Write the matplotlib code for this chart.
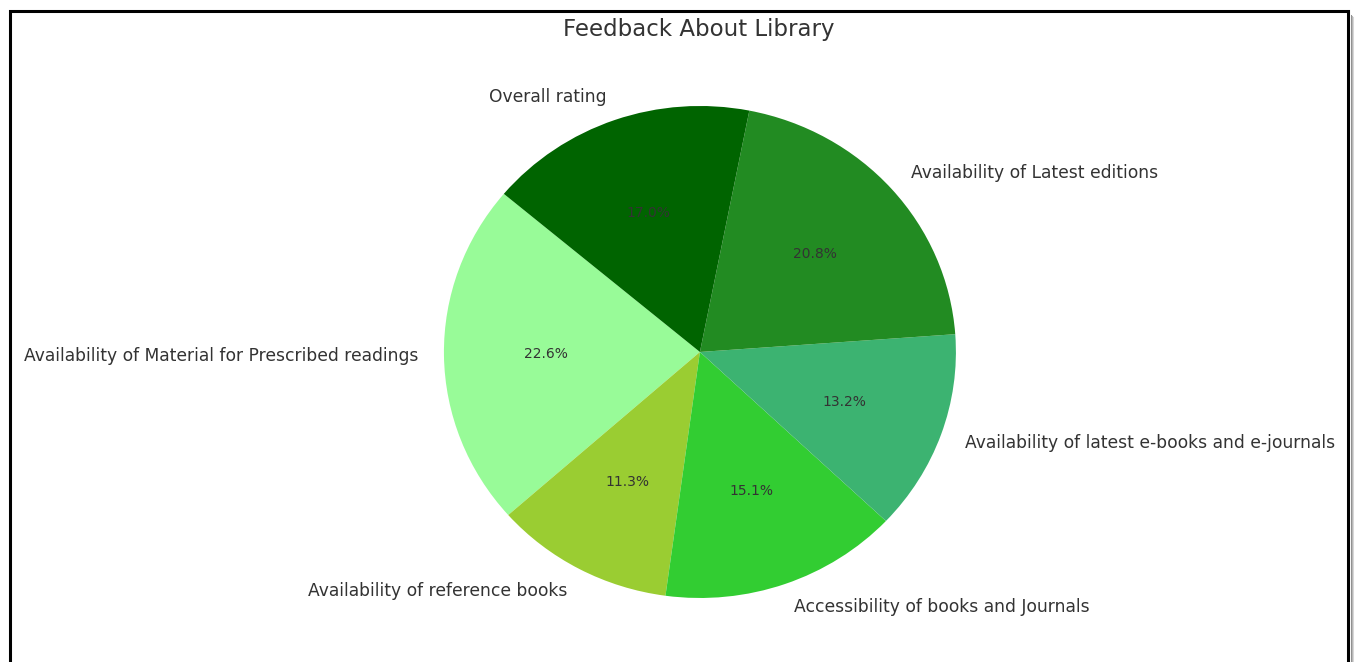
import matplotlib
matplotlib.use("Agg")
import matplotlib.pyplot as plt
import matplotlib.patches as patches
from matplotlib.lines import Line2D

# survey answers (counts out of 53 responses)
labels = [
    "Availability of Material for Prescribed readings",
    "Availability of reference books",
    "Accessibility of books and Journals",
    "Availability of latest e-books and e-journals",
    "Availability of Latest editions",
    "Overall rating",
]
counts = [12, 6, 8, 7, 11, 9]
colors = ["palegreen", "yellowgreen", "limegreen", "mediumseagreen", "forestgreen", "darkgreen"]

text_color = "#333333"
W, H = 1355, 662

fig = plt.figure(figsize=(W / 100, H / 100), dpi=100)
ax = fig.add_axes([0.2804, 0.0038, 0.4723, 0.929])

wedges, texts, autotexts = ax.pie(counts, labels=labels, colors=colors, startangle=140,
                                  autopct="%1.1f%%", textprops={"color": text_color})
for t in texts:
    t.set_fontsize(12.3)
for t in autotexts:
    t.set_fontsize(10)

# the reference is slightly stretched sideways
ax.set_aspect("auto")
ax.set_xlim(-1.25, 1.25)
ax.set_ylim(-1.25, 1.25)

fig.text(0.516, 0.955, "Feedback About Library", ha="center", va="center",
         fontsize=16.5, color=text_color)

# screenshot frame with a soft shadow on the right side
for dx, col in [(4, "#d8d8d8"), (3, "#b8b8b8"), (2, "#909090")]:
    fig.add_artist(Line2D([(1349 + dx) / W] * 2, [1 - (13 + dx) / H, 0],
                          transform=fig.transFigure, color=col, linewidth=0.75, zorder=9))
frame = patches.Rectangle((9.5 / W, -0.1), (1348 - 9.5) / W, 1.1 - 10.5 / H,
                          transform=fig.transFigure, linewidth=2.2, edgecolor="black",
                          facecolor="none", zorder=10)
fig.patches.append(frame)

fig.savefig("out.png", dpi=100)
